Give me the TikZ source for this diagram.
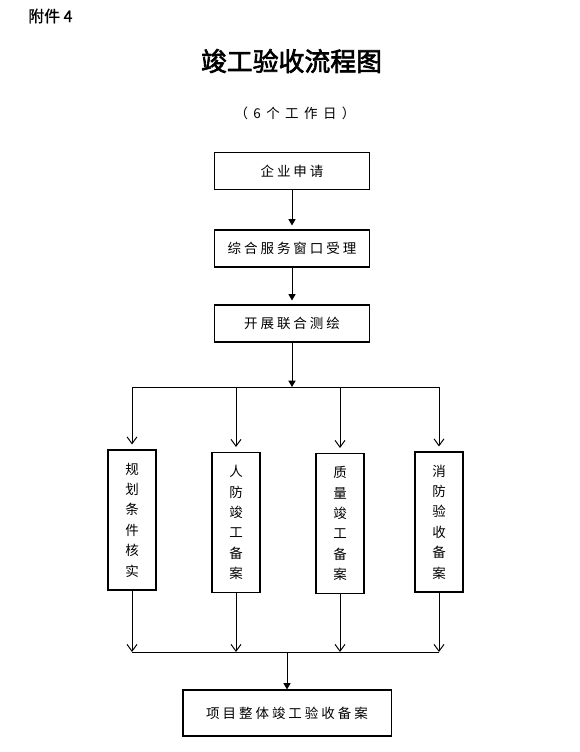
\documentclass[tikz,border=0pt]{standalone}
\usepackage{fontspec}
\setmainfont{Noto Sans CJK SC}
\newfontfamily\cjk[LetterSpace=22]{Noto Sans CJK SC}
\newfontfamily\cjkwide[LetterSpace=40]{Noto Sans CJK SC}
\newfontfamily\cjkplain{Noto Sans CJK SC}
\newfontfamily\cjkhalf[FakeBold=1]{Noto Sans CJK SC}
\newfontfamily\cjkheavy[FakeBold=2.5]{Noto Sans CJK SC}
\newcommand{\headfont}{\cjkhalf\fontsize{11.3}{13}\selectfont}
\newcommand{\titlefont}{\cjkheavy\fontsize{18.4}{22}\selectfont}
\newcommand{\daysfont}{\cjkwide\fontsize{9.6}{12}\selectfont}
\newcommand{\boxfont}{\cjk\fontsize{9.6}{12}\selectfont}
\newcommand{\tallfont}{\cjkplain\fontsize{9.6}{14.5}\selectfont}
\usetikzlibrary{positioning,arrows.meta}

\begin{document}
\begin{tikzpicture}[
    x=0.025cm, y=-0.025cm, % 1 unidade = 1 pixel da figura
    every node/.style={inner sep=0pt},
    box/.style={draw, line width=0.75pt, font=\boxfont},
    wide/.style={box, minimum width=3.875cm, minimum height=0.925cm},
    tall/.style={box, minimum width=1.2cm, minimum height=3.5cm,
        align=center, font=\tallfont},
    link/.style={line width=0.7pt},
    solid tip/.style={link, -{Triangle[length=0.16cm,width=0.18cm]}},
    open tip/.style={link, -{Straight Barb[length=0.17cm,width=0.25cm]}}
]
\useasboundingbox (0,0) rectangle (580,752);

% --- Cabecalho ---
\node[font=\headfont, anchor=west] (annex) at (28,16) {附件 4};
\node[font=\titlefont] (title) at (291.5,61) {竣工验收流程图};
\node[font=\daysfont] (days) at (295,113.5) {（6个工作日）};

% --- Etapas iniciais ---
\node[wide] (apply) at (292,171) {企业申请};
\node[wide] (accept) at (292,248.5) {综合服务窗口受理};
\node[wide] (survey) at (292,323.5) {开展联合测绘};

% --- Quatro ramos verticais ---
\node[tall] (plan) at (132,520) {规\\划\\条\\件\\核\\实};
\node[tall] (civil) at (236,522.5) {人\\防\\竣\\工\\备\\案};
\node[tall] (quality) at (340,523.5) {质\\量\\竣\\工\\备\\案};
\node[tall] (fire) at (439,522) {消\\防\\验\\收\\备\\案};

\node[box, minimum width=5.2cm, minimum height=1.15cm] (filing) at (287,713) {项目整体竣工验收备案};

\coordinate (split) at (292,387);
\coordinate (merge) at (287,652);

% --- Setas ---
\draw[solid tip, shorten >=0.1cm] (apply) -- (accept);
\draw[solid tip, shorten >=0.1cm] (accept) -- (survey);
\draw[solid tip] (survey) -- (split);
\draw[link] (split -| plan) -- (split -| fire);
\foreach \n in {plan,civil,quality,fire}
    \draw[open tip, shorten >=0.125cm] (split -| \n) -- (\n);
\foreach \n in {plan,civil,quality,fire}
    \draw[open tip] (\n) -- (merge -| \n);
\draw[link] (merge -| plan) -- (merge -| fire);
\draw[solid tip] (merge) -- (filing); % seta final

\end{tikzpicture}
\end{document}
